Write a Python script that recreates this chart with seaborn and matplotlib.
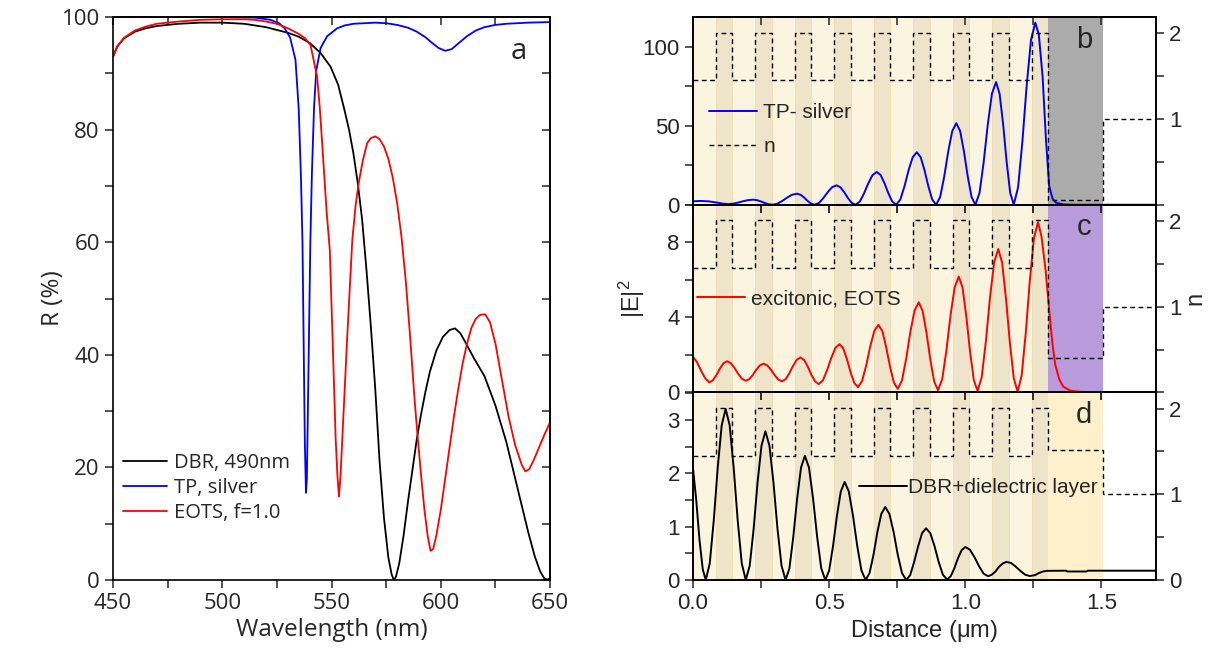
import matplotlib
matplotlib.use("Agg")
import matplotlib.pyplot as plt
from matplotlib.ticker import MultipleLocator, FuncFormatter
from matplotlib.lines import Line2D
import seaborn as sns


"""
DATA
"""

# panel a: reflectance spectra (wavelength in nm, R in %)
dbr_wl = [450, 452, 455, 460, 465, 470, 480, 490, 500, 510, 520, 530, 535, 540,
          545, 549.5, 553, 555.6, 558, 560, 562, 564, 566, 568, 570, 572, 574,
          576, 577.5, 578.5, 579.5, 581, 583, 585, 587, 589, 591, 593, 595, 598,
          601, 604, 606.5, 609, 612, 615, 620, 625, 630, 635, 640, 643, 645.5,
          647.5, 649, 650]
dbr_R = [93.0, 94.8, 96.2, 97.4, 98.0, 98.4, 98.8, 99.0, 99.0, 98.8, 98.2, 97.2,
         96.5, 95.4, 93.6, 91.2, 88.0, 84.0, 80.0, 75.8, 70.5, 64.0, 55.0, 45.0,
         34.0, 21.0, 11.0, 4.0, 1.0, 0.0, 0.6, 3.0, 8.0, 14.0, 19.5, 25.0, 29.5,
         33.5, 37.0, 40.8, 43.2, 44.4, 44.7, 43.8, 41.7, 39.5, 36.2, 31.0, 24.5,
         16.5, 8.5, 4.2, 1.5, 0.2, 0.1, 0.3]

tp_wl = [450, 480, 500, 515, 522, 526, 528.5, 531, 533.5, 535, 536, 536.7, 537.3,
         537.8, 538.3, 538.7, 539.1, 539.7, 540.3, 541, 542, 543, 545, 548, 552.6,
         556, 560, 565, 570, 575, 580, 585, 589, 593, 596, 599, 602, 605, 608,
         612, 616, 620, 625, 630, 640, 650]
tp_R = [100.0, 100.0, 100.0, 99.9, 99.5, 98.9, 98.0, 96.4, 92.4, 83.5, 71.6, 60.0,
        40.0, 24.0, 15.5, 18.0, 28.0, 44.0, 60.0, 72.0, 84.0, 90.5, 94.5, 96.6,
        98.0, 98.5, 98.8, 98.9, 99.0, 98.9, 98.6, 98.1, 97.4, 96.4, 95.4, 94.5,
        94.0, 94.3, 95.3, 96.6, 97.6, 98.2, 98.6, 98.8, 99.0, 99.1]

eots_wl = [450, 452, 455, 460, 465, 470, 480, 490, 500, 510, 515, 520, 525, 530,
           535, 538, 540.4, 542, 543.4, 544.6, 545.7, 547.7, 549.2, 550.5, 551.9,
           552.7, 553.4, 554.1, 554.9, 557.1, 559.5, 561, 562.4, 564.3, 566.3,
           568, 570, 572, 574, 576, 578, 580, 582, 584, 586, 588, 589.5, 591,
           592.5, 594, 595.3, 596.5, 598, 600, 602, 604, 606, 608, 610, 612, 614,
           616, 618, 620.3, 622.5, 625, 628, 631, 634, 637, 638.7, 640.5, 642.5,
           645, 647.5, 650]
eots_R = [93.0, 94.8, 96.3, 97.6, 98.3, 98.8, 99.2, 99.5, 99.6, 99.6, 99.5, 99.2,
          98.8, 98.0, 97.0, 96.2, 95.0, 92.0, 89.4, 84.0, 77.6, 65.7, 58.6, 42.6,
          24.9, 18.5, 14.8, 18.5, 24.9, 42.6, 60.4, 66.5, 70.5, 74.5, 77.6, 78.5,
          78.8, 78.3, 77.0, 74.8, 71.5, 67.0, 61.0, 53.0, 43.0, 32.0, 25.0, 18.5,
          12.5, 7.8, 5.2, 5.5, 8.0, 12.5, 18.0, 23.5, 29.0, 34.0, 38.5, 42.0, 44.8,
          46.4, 47.1, 47.2, 45.8, 42.0, 35.5, 29.0, 24.0, 20.5, 19.3, 19.7, 21.3,
          23.6, 25.9, 28.0]

# panel b: |E|^2 for the TP on silver (distance in um)
silver_x = [0.0, 0.03, 0.06, 0.09, 0.11, 0.129,
            0.1474, 0.1658, 0.1842, 0.2026, 0.221,
            0.2352, 0.2494, 0.2636, 0.2778, 0.292,
            0.31, 0.328, 0.346, 0.364, 0.382,
            0.395, 0.408, 0.421, 0.434, 0.447,
            0.463, 0.479, 0.495, 0.511, 0.527,
            0.541, 0.555, 0.569, 0.583, 0.597,
            0.6126, 0.6282, 0.6438, 0.6594, 0.675,
            0.6892, 0.7034, 0.7176, 0.7318, 0.746,
            0.7612, 0.7764, 0.7916, 0.8068, 0.822,
            0.8362, 0.8504, 0.8646, 0.8788, 0.893,
            0.9078, 0.9226, 0.9374, 0.9522, 0.967,
            0.981, 0.995, 1.009, 1.023, 1.037,
            1.0522, 1.0674, 1.0826, 1.0978, 1.113,
            1.126, 1.139, 1.152, 1.165, 1.178,
            1.1938, 1.2096, 1.2254, 1.2412, 1.257,
            1.27, 1.284, 1.296, 1.308, 1.32, 1.333, 1.36, 1.4, 1.7]
silver_E2 = [2.2, 2.4, 2.1, 1.3, 0.7, 0.4,
             0.67, 1.37, 2.23, 2.93, 3.2,
             2.89, 2.09, 1.11, 0.31, 0.0,
             0.67, 2.42, 4.58, 6.33, 7.0,
             6.33, 4.58, 2.42, 0.67, 0.0,
             1.18, 4.25, 8.05, 11.13, 12.3,
             11.13, 8.05, 4.25, 1.18, 0.0,
             1.99, 7.19, 13.61, 18.81, 20.8,
             18.81, 13.61, 7.19, 1.99, 0.0,
             3.18, 11.51, 21.8, 30.12, 33.3,
             30.12, 21.8, 11.51, 3.18, 0.0,
             4.94, 17.86, 33.84, 46.76, 51.7,
             46.76, 33.84, 17.86, 4.94, 0.0,
             7.43, 26.88, 50.92, 70.37, 77.8,
             70.37, 50.92, 26.88, 7.43, 0.0,
             11.03, 39.9, 75.59, 104.47, 115.5,
             108.0, 81.0, 42.0, 12.0, 4.0, 1.3, 0.2, 0.0, 0.0]

# panel c: |E|^2 for the excitonic EOTS
exc_x = [0.0, 0.015, 0.03, 0.045, 0.06,
         0.073, 0.086, 0.099, 0.112, 0.125,
         0.1388, 0.1526, 0.1664, 0.1802, 0.194,
         0.207, 0.22, 0.233, 0.246, 0.259,
         0.2726, 0.2862, 0.2998, 0.3134, 0.327,
         0.3406, 0.3542, 0.3678, 0.3814, 0.395,
         0.4084, 0.4218, 0.4352, 0.4486, 0.462,
         0.4772, 0.4924, 0.5076, 0.5228, 0.538,
         0.5516, 0.5652, 0.5788, 0.5924, 0.606,
         0.621, 0.636, 0.651, 0.666, 0.681,
         0.6952, 0.7094, 0.7236, 0.7378, 0.752,
         0.7674, 0.7828, 0.7982, 0.8136, 0.829,
         0.8432, 0.8574, 0.8716, 0.8858, 0.9,
         0.9152, 0.9304, 0.9456, 0.9608, 0.976,
         0.9898, 1.0036, 1.0174, 1.0312, 1.045,
         1.0602, 1.0754, 1.0906, 1.1058, 1.121,
         1.1352, 1.1494, 1.1636, 1.1778, 1.192,
         1.207, 1.222, 1.237, 1.252, 1.267,
         1.28, 1.295, 1.308, 1.32, 1.33, 1.345, 1.36, 1.385, 1.42, 1.5, 1.7]
exc_E2 = [1.9, 1.6, 1.15, 0.75, 0.53,
          0.64, 0.92, 1.27, 1.55, 1.66,
          1.56, 1.30, 0.98, 0.72, 0.62,
          0.71, 0.93, 1.22, 1.44, 1.53,
          1.44, 1.21, 0.92, 0.68, 0.59,
          0.71, 1.03, 1.42, 1.74, 1.86,
          1.72, 1.37, 0.93, 0.58, 0.44,
          0.64, 1.18, 1.83, 2.37, 2.57,
          2.35, 1.78, 1.07, 0.50, 0.28,
          0.60, 1.43, 2.45, 3.28, 3.6,
          3.27, 2.42, 1.37, 0.52, 0.19,
          0.63, 1.78, 3.21, 4.36, 4.8,
          4.35, 3.18, 1.74, 0.57, 0.12,
          0.70, 2.21, 4.08, 5.59, 6.17,
          5.59, 4.07, 2.18, 0.66, 0.08,
          0.80, 2.69, 5.03, 6.92, 7.64,
          6.91, 5.01, 2.67, 0.77, 0.04,
          0.90, 3.16, 5.95, 8.21, 9.07,
          8.3, 6.5, 4.4, 2.6, 1.5, 0.7, 0.3, 0.1, 0.03, 0.0, 0.0]

# panel d: |E|^2 for DBR + dielectric layer
diel_x = [0.0, 0.012, 0.024, 0.036, 0.047,
          0.0616, 0.0762, 0.0908, 0.1054, 0.12,
          0.1348, 0.1496, 0.1644, 0.1792, 0.194,
          0.2084, 0.2228, 0.2372, 0.2516, 0.266,
          0.2808, 0.2956, 0.3104, 0.3252, 0.34,
          0.3542, 0.3684, 0.3826, 0.3968, 0.411,
          0.426, 0.441, 0.456, 0.471, 0.486,
          0.5002, 0.5144, 0.5286, 0.5428, 0.557,
          0.5724, 0.5878, 0.6032, 0.6186, 0.634,
          0.6484, 0.6628, 0.6772, 0.6916, 0.706,
          0.7214, 0.7368, 0.7522, 0.7676, 0.783,
          0.7976, 0.8122, 0.8268, 0.8414, 0.856,
          0.8714, 0.8868, 0.9022, 0.9176, 0.933,
          0.9464, 0.9598, 0.9732, 0.9866, 1.0,
          1.0168, 1.0336, 1.0504, 1.0672, 1.084,
          1.0974, 1.1108, 1.1242, 1.1376, 1.151,
          1.1682, 1.1854, 1.2026, 1.2198, 1.237,
          1.255, 1.27, 1.285, 1.3, 1.37, 1.375, 1.445, 1.45, 1.7]
diel_E2 = [2.1, 1.5, 0.75, 0.2, 0.0,
           0.31, 1.11, 2.10, 2.90, 3.21,
           2.90, 2.10, 1.11, 0.31, 0.0,
           0.27, 0.96, 1.83, 2.52, 2.79,
           2.52, 1.83, 0.96, 0.27, 0.0,
           0.22, 0.81, 1.53, 2.11, 2.33,
           2.11, 1.53, 0.81, 0.22, 0.0,
           0.18, 0.64, 1.20, 1.66, 1.84,
           1.66, 1.20, 0.64, 0.18, 0.0,
           0.13, 0.47, 0.90, 1.24, 1.37,
           1.24, 0.90, 0.47, 0.13, 0.0,
           0.09, 0.34, 0.63, 0.88, 0.97,
           0.88, 0.64, 0.34, 0.10, 0.01,
           0.07, 0.22, 0.41, 0.56, 0.62,
           0.57, 0.43, 0.26, 0.12, 0.07,
           0.10, 0.16, 0.25, 0.31, 0.34,
           0.32, 0.25, 0.17, 0.10, 0.075,
           0.09, 0.13, 0.16, 0.172, 0.175, 0.16, 0.16, 0.175, 0.175]

# DBR layers (um): high index layers, then the top layer, then air
hi_start = [0.086, 0.229, 0.375, 0.519, 0.664, 0.809, 0.954, 1.098, 1.245]
hi_end = [0.145, 0.290, 0.435, 0.579, 0.723, 0.869, 1.014, 1.161, 1.305]
top_end = 1.505
x_end = 1.7
n_low = 1.45
n_high = 2.01
n_air = 1.0


"""
STYLE
"""

CREAM = "#FBF4DE"
STRIPE = "#EEE4C9"
STRIPE_EDGE = "#F1DCB0"

LEFT_FONT = "Open Sans"
RIGHT_FONT = "Liberation Sans"

sns.set_style("ticks")
plt.rcParams["font.family"] = [RIGHT_FONT, "DejaVu Sans"]
plt.rcParams["mathtext.fontset"] = "custom"
plt.rcParams["mathtext.rm"] = RIGHT_FONT
plt.rcParams["mathtext.it"] = RIGHT_FONT + ":italic"
plt.rcParams["axes.linewidth"] = 1.2
plt.rcParams["axes.edgecolor"] = "black"

TICK_LEN = 6


def mirror_ticks(ax, xmaj, xmin, ymaj=None, ymin=None):
    # ticks on the opposite sides point inwards
    top = ax.secondary_xaxis("top")
    top.xaxis.set_major_locator(MultipleLocator(xmaj))
    top.xaxis.set_minor_locator(MultipleLocator(xmin))
    top.tick_params(which="both", direction="in", length=TICK_LEN, width=1.1,
                    labeltop=False)
    if ymaj is not None:
        right = ax.secondary_yaxis("right")
        right.yaxis.set_major_locator(MultipleLocator(ymaj))
        right.yaxis.set_minor_locator(MultipleLocator(ymin))
        right.tick_params(which="both", direction="in", length=TICK_LEN,
                          width=1.1, labelright=False)


def n_profile(n_top):
    edges = [0.0]
    for s, e in zip(hi_start, hi_end):
        edges += [s, e]
    edges += [top_end, x_end]
    n = [n_low, n_high] * len(hi_start) + [n_top, n_air, n_air]
    return edges, n


def draw_field_panel(ax, x, y, color, label, ylim, ymaj, ymin, top_color,
                     n_top, letter, legend_xy, show_n_legend=False,
                     handletextpad=0.3, hide_zero_n=True):
    # layer shading
    ax.axvspan(0, hi_end[-1], color=CREAM, lw=0, zorder=0)
    for s, e in zip(hi_start, hi_end):
        ax.axvspan(s, e, facecolor=STRIPE, edgecolor=STRIPE_EDGE, lw=0.6,
                   zorder=0)
    ax.axvspan(hi_end[-1], top_end, color=top_color, lw=0, zorder=0)

    sns.lineplot(x=x, y=y, ax=ax, color=color, lw=1.4, sort=False,
                 estimator=None)
    ax.set_xlim(0, x_end)
    ax.set_ylim(ylim)
    ax.xaxis.set_major_locator(MultipleLocator(0.5))
    ax.xaxis.set_minor_locator(MultipleLocator(0.25))
    ax.yaxis.set_major_locator(MultipleLocator(ymaj))
    ax.yaxis.set_minor_locator(MultipleLocator(ymin))
    ax.tick_params(which="both", direction="out", length=TICK_LEN, width=1.1,
                   labelsize=16, right=False)
    ax.set_xlabel("")
    ax.set_ylabel("")
    mirror_ticks(ax, 0.5, 0.25)

    # refractive index profile on the right axis
    ax2 = ax.twinx()
    edges, n = n_profile(n_top)
    sns.lineplot(x=edges, y=n, ax=ax2, color="black", lw=1.0, sort=False,
                 estimator=None, drawstyle="steps-post",
                 linestyle=(0, (3.5, 2.5)))
    ax2.set_ylim(0, 2.19)
    ax2.yaxis.set_major_locator(MultipleLocator(1))
    ax2.yaxis.set_minor_locator(MultipleLocator(0.5))
    if hide_zero_n:
        ax2.yaxis.set_major_formatter(
            FuncFormatter(lambda v, pos: "" if abs(v) < 1e-9 else f"{v:.0f}"))
    ax2.tick_params(which="both", direction="out", length=TICK_LEN, width=1.1,
                    labelsize=16)
    ax2.set_ylabel("")

    handles = [Line2D([], [], color=color, lw=1.4)]
    labels = [label]
    if show_n_legend:
        handles.append(Line2D([], [], color="black", lw=1.0,
                              linestyle=(0, (3.5, 2.5))))
        labels.append("n")
    ax.legend(handles, labels, loc="center left", bbox_to_anchor=legend_xy,
              frameon=False, fontsize=15, handlelength=2.3,
              handletextpad=handletextpad, labelspacing=0.75, borderpad=0,
              borderaxespad=0)

    ax.text(0.845, 0.88, letter, transform=ax.transAxes, fontsize=21,
            ha="center", va="center")
    return ax2


"""
FIGURE
"""

fig = plt.figure(figsize=(12.1, 6.52), dpi=100)

# ---- panel a ----
ax_a = fig.add_axes([0.0934, 0.1104, 0.3612, 0.8635])
sns.lineplot(x=dbr_wl, y=dbr_R, ax=ax_a, color="black", lw=1.3,
             label="DBR, 490nm", sort=False, estimator=None)
sns.lineplot(x=tp_wl, y=tp_R, ax=ax_a, color="#0000FF", lw=1.3,
             label="TP, silver", sort=False, estimator=None)
sns.lineplot(x=eots_wl, y=eots_R, ax=ax_a, color="#FF0000", lw=1.3,
             label="EOTS, f=1.0", sort=False, estimator=None)
ax_a.set_xlim(450, 650)
ax_a.set_ylim(0, 100)
ax_a.xaxis.set_major_locator(MultipleLocator(50))
ax_a.xaxis.set_minor_locator(MultipleLocator(25))
ax_a.yaxis.set_major_locator(MultipleLocator(20))
ax_a.yaxis.set_minor_locator(MultipleLocator(10))
ax_a.tick_params(which="both", direction="out", length=TICK_LEN, width=1.1,
                 labelsize=16, labelfontfamily=LEFT_FONT)
mirror_ticks(ax_a, 50, 25, 20, 10)
ax_a.set_xlabel("Wavelength (nm)", fontsize=17.5, family=LEFT_FONT)
ax_a.set_ylabel("R (%)", fontsize=17.5, family=LEFT_FONT)
ax_a.xaxis.set_label_coords(0.5, -0.068)
ax_a.yaxis.set_label_coords(-0.11, 0.5)
ax_a.legend(loc="center left", bbox_to_anchor=(0.0, 0.163), frameon=False,
            prop={"family": LEFT_FONT, "size": 14.5}, handlelength=2.2,
            handletextpad=0.35, labelspacing=0.25, borderpad=0,
            borderaxespad=0.5)
ax_a.text(0.929, 0.938, "a", transform=ax_a.transAxes, fontsize=21,
          family=LEFT_FONT, ha="center", va="center")

# ---- panels b, c, d ----
w = 0.3826
h = 0.2878
ax_d = fig.add_axes([0.5727, 0.1104, w, h])
ax_c = fig.add_axes([0.5727, 0.1104 + h, w, h], sharex=ax_d)
ax_b = fig.add_axes([0.5727, 0.1104 + 2 * h, w, h], sharex=ax_d)

draw_field_panel(ax_b, silver_x, silver_E2, "#0000FF", "TP- silver",
                 (0, 119), 50, 25, "#ABABAB", 0.05, "b", (0.035, 0.40),
                 show_n_legend=True)
ax2_c = draw_field_panel(ax_c, exc_x, exc_E2, "#FF0000", "excitonic, EOTS",
                         (0, 10), 4, 2, "#B99ADB", 0.40, "c", (0.008, 0.498))
draw_field_panel(ax_d, diel_x, diel_E2, "black", "DBR+dielectric layer",
                 (0, 3.52), 1, 0.5, "#FEF0CB", 1.52, "d", (0.358, 0.494),
                 handletextpad=0.05, hide_zero_n=False)

ax_b.tick_params(labelbottom=False)
ax_c.tick_params(labelbottom=False)

ax_d.set_xlabel(r"Distance ($\mathregular{\mu}$m)", fontsize=17)
ax_d.xaxis.set_label_coords(0.5, -0.2)
ax_c.set_ylabel(r"$\mathregular{|E|^2}$", fontsize=17)
ax_c.yaxis.set_label_coords(-0.1, 0.5)
ax2_c.set_ylabel("n", fontsize=17)
ax2_c.yaxis.set_label_coords(1.062, 0.5)

fig.savefig("out.png", dpi=100)
